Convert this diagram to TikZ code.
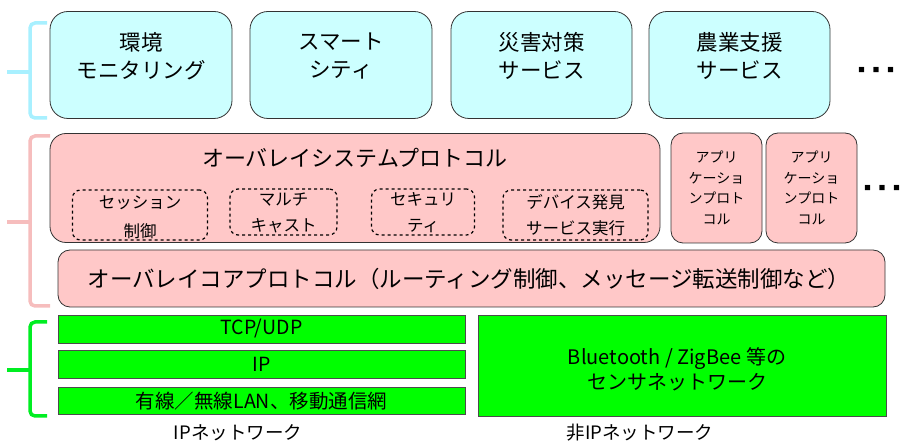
\documentclass[tikz,border=0pt]{standalone}
\usepackage{fontspec}
\setmainfont{Noto Sans CJK JP}
\begin{document}
\begin{tikzpicture}[x=1pt,y=-1pt,
  appbox/.style={draw=black!80,fill=appfill,rounded corners=18pt,line width=0.8pt},
  pinkbox/.style={draw=black!80,fill=pinkfill,rounded corners=16pt,line width=0.8pt},
  dashbox/.style={draw=black,dashed,line width=1.2pt,rounded corners=8pt},
  greenbox/.style={draw=black!70,fill=netgreen,line width=0.8pt},
  brace/.style={line width=3.5pt,rounded corners=5pt},
  txt/.style={inner sep=0pt,align=center,text=black},
  dotstxt/.style={inner sep=0pt,text=black,font=\fontsize{6.5}{8}\selectfont}
]
\definecolor{appfill}{HTML}{CCFFFF}
\definecolor{pinkfill}{HTML}{FFC8C8}
\definecolor{netgreen}{HTML}{00FF00}
\definecolor{cyanbrace}{HTML}{A8F0FF}
\definecolor{pinkbrace}{HTML}{F6BDBD}
\definecolor{greenbrace}{HTML}{00EE22}
\useasboundingbox (0,0) rectangle (913,443);

% application layer
\node[appbox,minimum width=182pt,minimum height=107pt] (a1) at (141,65) {};
\node[appbox,minimum width=182pt,minimum height=107pt] (a2) at (341,65) {};
\node[appbox,minimum width=181pt,minimum height=107pt] (a3) at (541.5,65) {};
\node[appbox,minimum width=181pt,minimum height=107pt] (a4) at (739.5,65) {};
\foreach \n/\t in {a1/{環境\\モニタリング},a2/{スマート\\シティ},a3/{災害対策\\サービス},a4/{農業支援\\サービス}}{
  \node[txt,font=\fontsize{21.5}{28}\selectfont] (\n t) at ([yshift=9pt]\n.center) {\t};
}
\node[dotstxt] (dots1) at (876,70) {■\hspace{8pt}■\hspace{8pt}■};

% overlay layer
\node[pinkbox,minimum width=610pt,minimum height=109pt] (sys) at (355,188) {};
\node[txt,font=\fontsize{22}{26}\selectfont] (syst) at (355,158) {オーバレイシステムプロトコル};
\node[dashbox,minimum width=135pt,minimum height=50pt] (d1) at (140,215) {};
\node[dashbox,minimum width=107pt,minimum height=46pt] (d2) at (283.5,212) {};
\node[dashbox,minimum width=103pt,minimum height=46pt] (d3) at (423,212) {};
\node[dashbox,minimum width=145pt,minimum height=50pt] (d4) at (575.5,215) {};
\node[txt,font=\fontsize{16.5}{29}\selectfont] (d1t) at (140,217) {セッション\\制御};
\node[txt,font=\fontsize{16.5}{26}\selectfont] (d2t) at (283.5,213) {マルチ\\キャスト};
\node[txt,font=\fontsize{16.5}{26}\selectfont] (d3t) at (423,213) {セキュリ\\ティ};
\node[txt,font=\fontsize{16.5}{26}\selectfont] (d4t) at (575.5,215) {デバイス発見\\サービス実行};

\node[pinkbox,rounded corners=12pt,minimum width=91pt,minimum height=110pt] (p1) at (716.5,188) {};
\node[pinkbox,rounded corners=12pt,minimum width=91pt,minimum height=110pt] (p2) at (811.5,188) {};
\node[txt,font=\fontsize{14}{20.5}\selectfont] (p1t) at (p1.center) {アプリ\\ケーショ\\ンプロト\\コル};
\node[txt,font=\fontsize{14}{20.5}\selectfont] (p2t) at (p2.center) {アプリ\\ケーショ\\ンプロト\\コル};
\node[dotstxt] (dots2) at (882,188) {■\hspace{8pt}■\hspace{8pt}■};

\node[pinkbox,rounded corners=12pt,minimum width=827pt,minimum height=57pt] (core) at (471.5,278.5) {};
\node[txt,font=\fontsize{22.5}{26}\selectfont] (coret) at (469,279) {オーバレイコアプロトコル（ルーティング制御、メッセージ転送制御など）};

% network layer
\node[greenbox,minimum width=407pt,minimum height=28pt] (tcp) at (261.5,329) {};
\node[greenbox,minimum width=407pt,minimum height=28pt] (ip) at (261.5,364) {};
\node[greenbox,minimum width=407pt,minimum height=27pt] (lan) at (261.5,400.5) {};
\node[txt,font=\fontsize{19.5}{20}\selectfont] (tcpt) at (tcp.center) {TCP/UDP};
\node[txt,font=\fontsize{19.5}{20}\selectfont] (ipt) at (ip.center) {IP};
\node[txt,font=\fontsize{19.5}{20}\selectfont] (lant) at ([yshift=-1pt]lan.center) {有線／無線LAN、移動通信網};
\node[greenbox,minimum width=408pt,minimum height=101pt] (bt) at (682,365.5) {};
\node[txt,font=\fontsize{20}{25}\selectfont] (btt) at (677,369) {Bluetooth / ZigBee 等の\\センサネットワーク};

\node[txt,font=\fontsize{18.5}{22}\selectfont] (ipnet) at (238,433) {IPネットワーク};
\node[txt,font=\fontsize{18.5}{22}\selectfont] (nonip) at (640,433) {非IPネットワーク};

% braces
\draw[brace,cyanbrace] (47,23) -- (30,23) -- (30,118) -- (47,118);
\draw[brace,cyanbrace] (7,72) -- (30,72);
\draw[brace,pinkbrace] (50,136) -- (30,136) -- (30,306) -- (50,306);
\draw[brace,pinkbrace] (7,222) -- (30,222);
\draw[brace,greenbrace] (47,322) -- (30,322) -- (30,416) -- (47,416);
\draw[brace,greenbrace] (7,370) -- (30,370);
\end{tikzpicture}
\end{document}
